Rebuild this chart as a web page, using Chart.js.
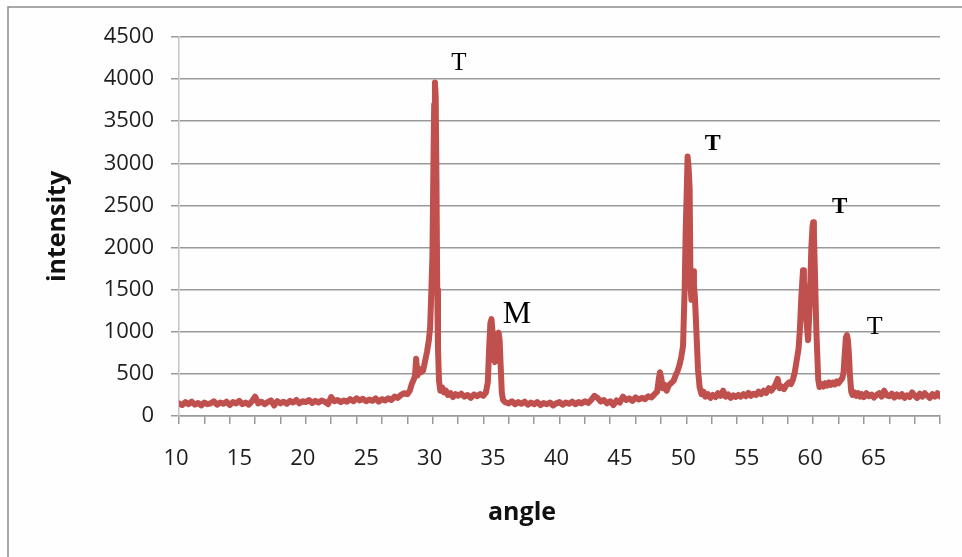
<!DOCTYPE html>
<html>
<head>
<meta charset="utf-8">
<script src="https://cdn.jsdelivr.net/npm/chart.js@4.4.1/dist/chart.umd.min.js"></script>
<style>
  html, body { margin: 0; padding: 0; background: #fff; }
  #wrap { width: 962px; height: 557px; }
</style>
</head>
<body>
<div id="wrap"><canvas id="xrdChart" width="962" height="557"></canvas></div>
<script>
const angles = [
  10, 10.25, 10.5, 10.75, 11, 11.25, 11.5, 11.75, 12, 12.25, 12.5, 12.75, 13, 13.25, 13.5, 13.75, 14, 14.25, 14.5, 14.75,
  15, 15.25, 15.5, 15.75, 16, 16.25, 16.5, 16.75, 17, 17.25, 17.5, 17.75, 18, 18.25, 18.5, 18.75, 19, 19.25, 19.5, 19.75,
  20, 20.25, 20.5, 20.75, 21, 21.25, 21.5, 21.75, 22, 22.25, 22.5, 22.75, 23, 23.25, 23.5, 23.75, 24, 24.25, 24.5, 24.75,
  25, 25.25, 25.5, 25.75, 26, 26.25, 26.5, 26.75, 27,
  27.25, 27.5, 27.75, 28, 28.2, 28.35, 28.5, 28.6, 28.7, 28.8, 28.95, 29.1, 29.25, 29.4, 29.55, 29.7, 29.8, 29.9,
  29.98, 30.06, 30.12, 30.18, 30.24, 30.3, 30.36, 30.42, 30.5, 30.6, 30.75, 30.9, 31.05, 31.2, 31.4, 31.6, 31.8, 32,
  32.25, 32.5, 32.75, 33, 33.25, 33.5, 33.75, 34, 34.2,
  34.35, 34.45, 34.55, 34.64, 34.72, 34.8, 34.9, 35, 35.1, 35.2, 35.28, 35.36, 35.45, 35.55,
  35.7, 36, 36.25, 36.5, 36.75, 37, 37.25, 37.5, 37.75, 38, 38.25, 38.5, 38.75, 39, 39.25, 39.5,
  39.75, 40, 40.25, 40.5, 40.75, 41, 41.25, 41.5, 41.75, 42, 42.25, 42.5, 42.75, 43, 43.25, 43.5,
  43.75, 44, 44.25, 44.5, 44.75, 45, 45.25, 45.5, 45.75, 46, 46.25, 46.5, 46.75, 47, 47.25, 47.5,
  47.7, 47.82, 47.92, 48.02, 48.15, 48.3, 48.45, 48.6, 48.8, 49, 49.15, 49.3, 49.45, 49.6, 49.74, 49.87,
  49.95, 50.02, 50.1, 50.18, 50.26, 50.33, 50.4, 50.47, 50.53, 50.6, 50.68, 50.8, 50.92, 51.05, 51.2, 51.35, 51.5,
  51.7, 51.9, 52.1, 52.3, 52.5, 52.7, 52.9, 53.1, 53.3, 53.5, 53.7, 53.9, 54.1, 54.3, 54.5, 54.7, 54.9,
  55.1, 55.3, 55.5, 55.7, 55.9, 56.1, 56.3, 56.5, 56.7, 56.9, 57.05, 57.2, 57.35, 57.5, 57.7, 57.9, 58.1,
  58.25, 58.4, 58.55, 58.7, 58.85, 58.95, 59.07, 59.2, 59.27, 59.33, 59.46, 59.6, 59.72, 59.86, 59.95, 60, 60.06,
  60.12, 60.25, 60.4, 60.5,
  60.65, 60.8, 60.95, 61.1, 61.25, 61.4, 61.55, 61.7, 61.85, 62, 62.15, 62.3,
  62.4, 62.5, 62.58, 62.66, 62.74, 62.82, 62.9, 63, 63.1,
  63.25, 63.4, 63.55, 63.7, 63.85, 64, 64.2, 64.4, 64.6, 64.8, 65, 65.2, 65.4, 65.6, 65.8, 66, 66.2, 66.4,
  66.6, 66.8, 67, 67.2, 67.4, 67.6, 67.8, 68, 68.2, 68.4, 68.6, 68.8, 69, 69.2, 69.4, 69.6, 69.8, 70
];

const intensity = [
  150, 130, 165, 140, 170, 135, 155, 125, 160, 140, 150, 175, 135, 160, 145, 170, 130, 165, 150, 180,
  140, 160, 135, 175, 230, 150, 170, 140, 165, 185, 125, 175, 150, 170, 145, 180, 160, 190, 150, 175,
  165, 190, 155, 180, 160, 185, 170, 140, 225, 175, 190, 165, 185, 170, 200, 175, 210, 185, 205, 175,
  195, 180, 210, 170, 200, 185, 210, 190, 230,
  215, 250, 270, 260, 300, 380, 430, 470, 680, 480, 560, 520, 540, 650, 760, 900, 1050, 1500,
  1900, 3000, 3700, 3960, 3800, 2800, 1500, 800, 420, 300, 340, 280, 300, 250, 270, 225, 260, 240,
  265, 230, 250, 215, 255, 235, 260, 240, 280,
  400, 800, 1100, 1150, 1000, 700, 640, 850, 960, 990, 900, 600, 280, 190,
  165, 150, 175, 140, 165, 145, 170, 135, 160, 140, 165, 130, 155, 140, 160, 125,
  150, 165, 135, 160, 145, 170, 140, 165, 150, 175, 155, 190, 240, 215, 170, 190,
  150, 175, 130, 185, 160, 230, 190, 210, 180, 220, 195, 215, 200, 235, 220, 260,
  290, 430, 520, 450, 330, 370, 300, 360, 390, 420, 480, 530, 600, 700, 830, 1530,
  2200, 2600, 3080, 2950, 2700, 1550, 1380, 1600, 1720, 1550, 1400, 980, 550, 340, 260, 290, 230,
  260, 215, 250, 225, 270, 240, 300, 230, 255, 215, 245, 225, 250, 230, 260, 235, 275,
  240, 265, 250, 290, 260, 300, 275, 330, 300, 340, 380, 440, 330, 350, 320, 370, 400,
  380, 430, 520, 660, 800, 1020, 1420, 1730, 1600, 1500, 1140, 900, 1300, 2010, 2250, 2300, 2150,
  1810, 1020, 430, 345,
  380, 350, 390, 360, 400, 370, 395, 375, 410, 390, 420, 450,
  520, 760, 930, 960, 900, 740, 480, 290, 250,
  280, 240, 270, 230, 260, 225, 270, 235, 255, 220, 250, 270, 230, 300, 245, 235, 265, 220,
  255, 230, 260, 215, 245, 225, 280, 240, 215, 265, 230, 270, 240, 215, 260, 230, 270, 235
];

// axis ticks
const yTickValues = [0, 500, 1000, 1500, 2000, 2500, 3000, 3500, 4000, 4500];
const xTickLabels = [10, 15, 20, 25, 30, 35, 40, 45, 50, 55, 60, 65];

// phase markers (T = tetragonal, M = monoclinic)
const markerText = ['T', 'M', 'T', 'T', 'T'];
const markerAngle = [32.07, 36.64, 52.08, 62.09, 64.85];
const markerIntensity = [4209, 1234, 3257, 2496, 1078];

const markerStyle = [
  { size: 25, weight: 'normal' },
  { size: 32, weight: 'normal' },
  { size: 24, weight: 'bold' },
  { size: 23, weight: 'bold' },
  { size: 26, weight: 'normal' },
];

const xTickMarks = [];
for (let v = 10; v <= 70; v += 1) {
  if (v % 2 === 0 || xTickLabels.includes(v)) xTickMarks.push(v);
}

const pageDecor = {
  id: 'pageDecor',
  beforeDraw(chart) {
    const c = chart.ctx;
    c.save();
    c.fillStyle = '#fefefe';
    c.fillRect(0, 0, chart.width, chart.height);
    c.strokeStyle = '#8c8c8c';
    c.lineWidth = 1.5;
    c.beginPath();
    c.moveTo(8, chart.height);
    c.lineTo(8, 7);
    c.lineTo(chart.width, 7);
    c.stroke();
    c.restore();
  },
  afterDraw(chart) {
    const c = chart.ctx;
    const xs = chart.scales.x;
    const ys = chart.scales.y;
    c.save();
    c.fillStyle = '#000';
    c.textAlign = 'center';
    markerText.forEach((t, i) => {
      const st = markerStyle[i];
      c.font = st.weight + ' ' + st.size + 'px "Liberation Serif", "Times New Roman", serif';
      c.textBaseline = 'alphabetic';
      const px = xs.getPixelForValue(markerAngle[i]);
      const py = ys.getPixelForValue(markerIntensity[i]);
      c.fillText(t, px, py + st.size * 0.33);
    });

    // axis titles
    c.fillStyle = '#111';
    c.font = 'bold 25px "Open Sans", sans-serif';
    c.textBaseline = 'middle';
    c.fillText('angle', 522, 513);
    c.translate(58, (chart.chartArea.top + chart.chartArea.bottom) / 2);
    c.rotate(-Math.PI / 2);
    c.fillText('intensity', 0, 0);
    c.restore();
  }
};

const ctx = document.getElementById('xrdChart').getContext('2d');

new Chart(ctx, {
  type: 'line',
  data: {
    datasets: [{
      label: 'intensity',
      data: angles.map((a, i) => ({ x: a, y: intensity[i] })),
      borderColor: '#c0504d',
      backgroundColor: '#c0504d',
      borderWidth: 6,
      pointRadius: 0,
      tension: 0,
      borderJoinStyle: 'round',
      borderCapStyle: 'round',
    }],
  },
  options: {
    responsive: false,
    animation: false,
    devicePixelRatio: 1,
    layout: { padding: { left: 0, right: 22, top: 37, bottom: 0 } },
    plugins: {
      legend: { display: false },
      tooltip: { enabled: false },
    },
    scales: {
      x: {
        type: 'linear',
        min: 10,
        max: 70,
        afterFit: (s) => { s.height = 141; },
        afterBuildTicks: (s) => { s.ticks = xTickMarks.map(v => ({ value: v })); },
        grid: {
          drawOnChartArea: false,
          drawTicks: true,
          tickLength: 8,
          lineWidth: 1.5,
          color: (c) => (c.tick && c.tick.value % 2 === 0 ? '#9a9a9a' : 'rgba(0,0,0,0)'),
        },
        border: { color: '#9a9a9a', width: 1.5 },
        ticks: {
          autoSkip: false,
          maxRotation: 0,
          minRotation: 0,
          padding: 22,
          labelOffset: -3,
          color: '#1e1e1e',
          font: { family: 'Open Sans', size: 22 },
          callback: (v) => (xTickLabels.includes(v) ? String(v) : ''),
        },
      },
      y: {
        min: 0,
        max: 4500,
        afterFit: (s) => { s.width = 179; },
        afterBuildTicks: (s) => { s.ticks = yTickValues.map(v => ({ value: v })); },
        grid: { color: '#9a9a9a', lineWidth: 1.5, tickLength: 8 },
        border: { color: '#c4c4c4', width: 1.5 },
        ticks: {
          padding: 17,
          color: '#1e1e1e',
          font: { family: 'Open Sans', size: 22 },
          callback: (v) => String(v),
        },
      },
    },
  },
  plugins: [pageDecor],
});
</script>
</body>
</html>
